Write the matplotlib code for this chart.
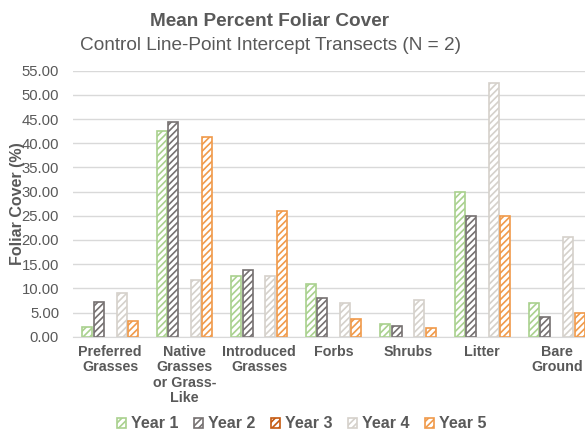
import matplotlib.pyplot as plt
import numpy as np

plt.rcParams['font.family'] = ['Liberation Sans', 'DejaVu Sans']
plt.rcParams['hatch.linewidth'] = 1.2

# categories and mean foliar cover per year
categories = ['Preferred\nGrasses', 'Native\nGrasses\nor Grass-\nLike', 'Introduced\nGrasses',
              'Forbs', 'Shrubs', 'Litter', 'Bare\nGround']
years = ['Year 1', 'Year 2', 'Year 3', 'Year 4', 'Year 5']
year1 = [2.0, 42.6, 12.5, 10.9, 2.7, 29.9, 7.0]
year2 = [7.2, 44.3, 13.7, 8.1, 2.3, 24.9, 4.1]
year3 = [np.nan] * 7  # no data for year 3
year4 = [9.1, 11.7, 12.6, 7.0, 7.5, 52.5, 20.6]
year5 = [3.2, 41.2, 25.9, 3.7, 1.7, 24.9, 5.0]
series = [year1, year2, year3, year4, year5]
colors = ['#A9D18E', '#767171', '#C55A11', '#D5D1CB', '#F09A4A']

text_gray = '#595959'
grid_gray = '#D9D9D9'

fig = plt.figure(figsize=(5.85, 4.37), dpi=100)
ax = fig.add_axes([73 / 585, 1 - 336.7 / 437, 521 / 585, 266 / 437])

x = np.arange(len(categories))
step = 0.153
width = 0.134
for i, (vals, col, name) in enumerate(zip(series, colors, years)):
    ax.bar(x + (i - 2) * step, vals, width, facecolor='white', edgecolor=col,
           hatch='/////', linewidth=1.2, label=name)

ax.set_xlim(-0.5, len(categories) - 0.5)
ax.set_ylim(0, 55)
ax.set_yticks(np.arange(0, 56, 5))
ax.set_yticklabels([f'{v:.2f}' for v in np.arange(0, 56, 5)])
ax.set_xticks(x)
ax.set_xticklabels(categories, fontsize=10.3, fontweight='bold', color=text_gray,
                   linespacing=1.12, va='top')
ax.tick_params(axis='y', length=0, labelsize=10.7, labelcolor=text_gray, pad=10)
ax.tick_params(axis='x', length=0, pad=6)
ax.grid(axis='y', color=grid_gray, linewidth=1)
ax.set_axisbelow(True)
for s in ['top', 'right', 'left']:
    ax.spines[s].set_visible(False)
ax.spines['bottom'].set_color(grid_gray)

ax.set_ylabel('Foliar Cover (%)', fontsize=11.5, fontweight='bold', color=text_gray)
ax.yaxis.set_label_coords(-0.092, 0.5)

fig.text(270 / 585, 1 - 21 / 437, 'Mean Percent Foliar Cover', ha='center', va='center',
         fontsize=13.7, fontweight='bold', color=text_gray)
fig.text(270 / 585, 1 - 45 / 437, 'Control Line-Point Intercept Transects (N = 2)', ha='center',
         va='center', fontsize=13.7, color=text_gray)

fig.legend(loc='center', bbox_to_anchor=(302 / 585, 1 - 424 / 437), ncol=5, frameon=False,
           prop={'weight': 'bold', 'size': 11.5}, labelcolor=text_gray, handlelength=0.55,
           handleheight=0.55, handletextpad=0.3, columnspacing=1.0)

fig.savefig('out.png', dpi=100)
